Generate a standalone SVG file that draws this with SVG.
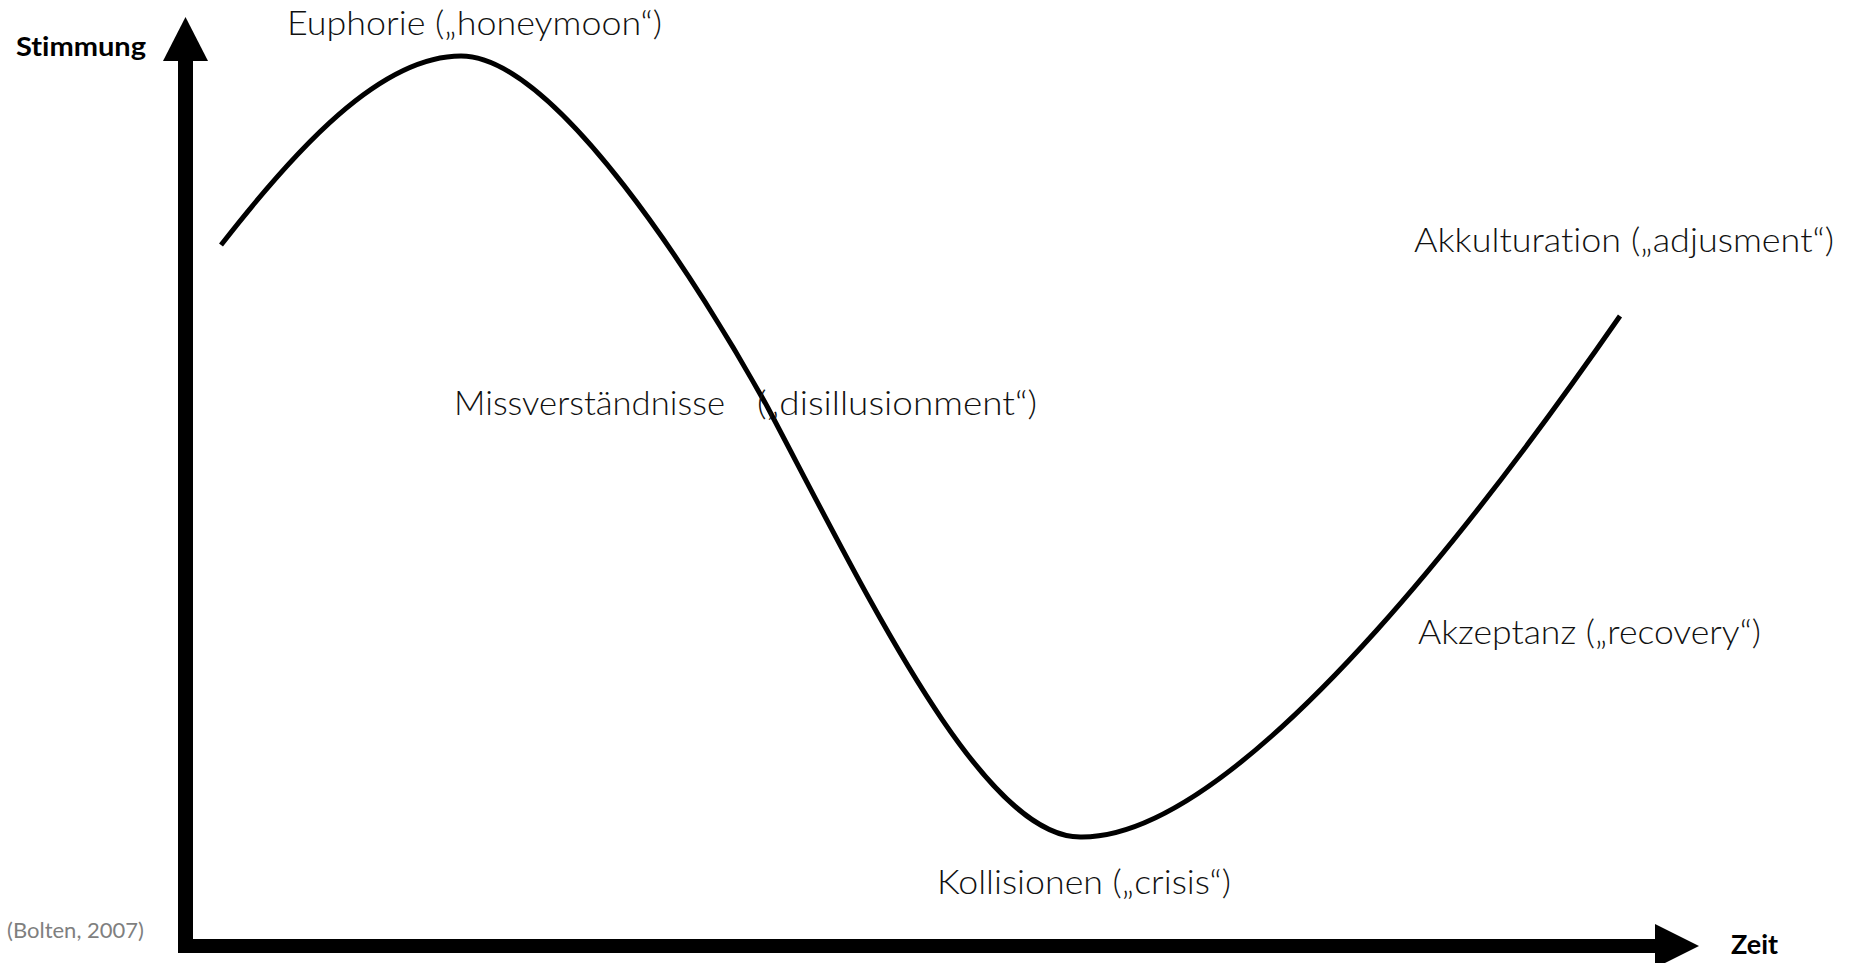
<svg xmlns="http://www.w3.org/2000/svg" width="1854" height="963" viewBox="0 0 1854 963">
<style>
text{font-variant-ligatures:none}
.lbl{font-family:Lato,"Open Sans","Liberation Sans",sans-serif;font-weight:300;font-size:34px;fill:#111}
.ax{font-family:Lato,"Open Sans","Liberation Sans",sans-serif;font-weight:700;font-size:27px;fill:#000}
.src{font-family:Lato,"Open Sans","Liberation Sans",sans-serif;font-weight:400;font-size:22px;fill:#7f7f7f}
</style>
<rect width="1854" height="963" fill="#fff"/>
<g id="axes">
  <g id="y-axis">
    <rect x="178" y="58" width="15" height="895" fill="#000"/>
    <polygon points="185.5,17 208,61 163,61" fill="#000"/>
  </g>
  <g id="x-axis">
    <rect x="178" y="939" width="1479" height="14" fill="#000"/>
    <polygon points="1699,946 1655,924 1655,968" fill="#000"/>
  </g>
  <text id="label-y" class="ax" x="16" y="56" textLength="130" lengthAdjust="spacingAndGlyphs">Stimmung</text>
  <text id="label-x" class="ax" x="1731" y="954" textLength="47" lengthAdjust="spacingAndGlyphs">Zeit</text>
</g>
<g id="connectors">
  <path id="curve" d="M221,245 C295,150 380,56 461,56 C555,56 700,285 768,408 C872,605 985,840 1082,837 C1250,837 1520,460 1620,316" fill="none" stroke="#000" stroke-width="5"/>
</g>
<g id="node-euphorie"><text class="lbl" x="287" y="35" textLength="375" lengthAdjust="spacingAndGlyphs">Euphorie („honeymoon“)</text></g>
<g id="node-missverstaendnisse">
  <text class="lbl" x="454" y="415" textLength="271" lengthAdjust="spacingAndGlyphs">Missverständnisse</text>
  <text class="lbl" x="757" y="415" textLength="280" lengthAdjust="spacingAndGlyphs">(„disillusionment“)</text>
</g>
<g id="node-kollisionen"><text class="lbl" x="937" y="894" textLength="294" lengthAdjust="spacingAndGlyphs">Kollisionen („crisis“)</text></g>
<g id="node-akzeptanz"><text class="lbl" x="1418" y="644" textLength="343" lengthAdjust="spacingAndGlyphs">Akzeptanz („recovery“)</text></g>
<g id="node-akkulturation"><text class="lbl" x="1414" y="252" textLength="420" lengthAdjust="spacingAndGlyphs">Akkulturation („adjusment“)</text></g>
<g id="source"><text class="src" x="7" y="938" textLength="137" lengthAdjust="spacingAndGlyphs">(Bolten, 2007)</text></g>
</svg>
